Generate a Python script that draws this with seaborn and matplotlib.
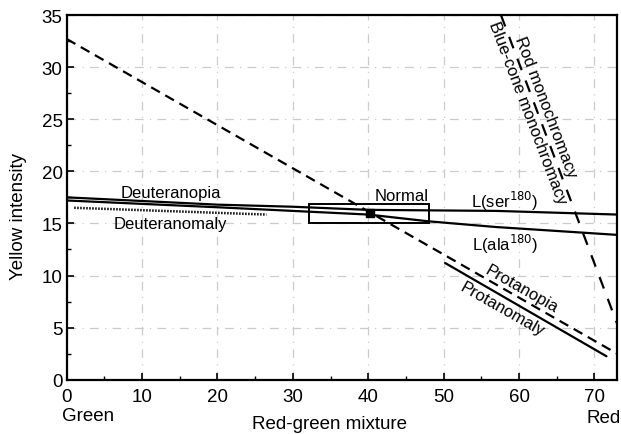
import numpy as np
import matplotlib
matplotlib.use("Agg")
import matplotlib.pyplot as plt
from matplotlib.patches import Rectangle
from matplotlib.ticker import MultipleLocator
import seaborn as sns

# values
ser_x = [0, 20, 30, 40, 57, 73]
ser_y = [17.5, 16.8, 16.6, 16.3, 16.2, 15.85]

ala_x = [0, 20, 30, 40, 48, 57, 73]
ala_y = [17.2, 16.55, 16.2, 15.85, 15.2, 14.65, 13.9]

deutan_anom_x = [1, 26.5]
deutan_anom_y = [16.5, 15.85]

protanopia_x = [0, 73]
protanopia_y = [32.7, 2.5]

protanomaly_x = [50.2, 71.6]
protanomaly_y = [11.2, 2.25]

mono_x = [57.6, 73]
mono_y = [35, 5.4]

normal_x = [32.1, 48.0]
normal_y = [15.05, 16.85]
normal_mean = (40.2, 16.0)

sns.set_style("ticks")
plt.rcParams["font.family"] = ["Liberation Sans", "DejaVu Sans"]
plt.rcParams["text.color"] = "black"
plt.rcParams["axes.labelcolor"] = "black"
plt.rcParams["xtick.color"] = "black"
plt.rcParams["ytick.color"] = "black"
plt.rcParams["axes.edgecolor"] = "black"

fig = plt.figure(figsize=(6.21, 4.35), dpi=100)
ax = fig.add_axes([0.1074, 0.1248, 0.8862, 0.8384])

# grid
ax.set_axisbelow(True)
ax.grid(True, color="#cccccc", linewidth=0.9, linestyle=(0, (7, 5, 1, 5)))

lw = 1.6
sns.lineplot(x=ser_x, y=ser_y, ax=ax, color="black", linewidth=lw,
             sort=False, estimator=None)
sns.lineplot(x=ala_x, y=ala_y, ax=ax, color="black", linewidth=lw,
             sort=False, estimator=None)
sns.lineplot(x=deutan_anom_x, y=deutan_anom_y, ax=ax, color="black",
             linewidth=1.8, linestyle=(0, (0.6, 0.6)), sort=False, estimator=None)
sns.lineplot(x=protanopia_x, y=protanopia_y, ax=ax, color="black",
             linewidth=lw, linestyle=(0, (4.5, 2.8)), sort=False, estimator=None)
sns.lineplot(x=protanomaly_x, y=protanomaly_y, ax=ax, color="black",
             linewidth=lw, sort=False, estimator=None)
sns.lineplot(x=mono_x, y=mono_y, ax=ax, color="black", linewidth=lw,
             linestyle=(0, (5.5, 5.0)), sort=False, estimator=None)

ax.add_patch(Rectangle((normal_x[0], normal_y[0]),
                       normal_x[1] - normal_x[0], normal_y[1] - normal_y[0],
                       fill=False, edgecolor="black", linewidth=1.4, zorder=3))
ax.scatter([normal_mean[0]], [normal_mean[1]], marker="s", s=40,
           color="black", zorder=4)

ax.set_xlim(0, 73)
ax.set_ylim(0, 35)
ax.xaxis.set_major_locator(MultipleLocator(10))
ax.xaxis.set_minor_locator(MultipleLocator(5))
ax.yaxis.set_major_locator(MultipleLocator(5))
ax.yaxis.set_minor_locator(MultipleLocator(2.5))
ax.tick_params(which="major", direction="in", length=5, width=1.2,
               labelsize=13.5)
ax.tick_params(which="minor", direction="in", length=3, width=1.0)
ax.tick_params(axis="x", pad=6)
ax.tick_params(axis="y", pad=3)
for s in ax.spines.values():
    s.set_linewidth(1.6)
    s.set_visible(True)

ax.set_xlabel("Red-green mixture", fontsize=13.5)
ax.set_ylabel("Yellow intensity", fontsize=13.5)
ax.xaxis.set_label_coords(0.477, -0.098)
ax.yaxis.set_label_coords(-0.072, 0.45)

ax.text(0.038, -0.097, "Green", transform=ax.transAxes, fontsize=13.5,
        ha="center", va="center")
ax.text(0.975, -0.103, "Red", transform=ax.transAxes, fontsize=13.5,
        ha="center", va="center")

fs = 12
ax.text(13.8, 18.0, "Deuteranopia", fontsize=fs, ha="center", va="center")
ax.text(13.7, 15.0, "Deuteranomaly", fontsize=fs, ha="center", va="center")
ax.text(44.4, 17.7, "Normal", fontsize=fs, ha="center", va="center")
ax.text(58.1, 17.2, "L(ser$^{180}$)", fontsize=fs, ha="center", va="center")
ax.text(58.1, 13.1, "L(ala$^{180}$)", fontsize=fs, ha="center", va="center")
ax.text(60.3, 8.8, "Protanopia", fontsize=fs, ha="center", va="center",
        rotation=-29.6, rotation_mode="anchor")
ax.text(57.8, 6.8, "Protanomaly", fontsize=fs, ha="center", va="center",
        rotation=-29.6, rotation_mode="anchor")
ax.text(63.5, 26.2, "Rod monochromacy", fontsize=fs, ha="center",
        va="center", rotation=-69.2, rotation_mode="anchor")
ax.text(61.1, 25.7, "Blue-cone monochromacy", fontsize=fs, ha="center",
        va="center", rotation=-69.2, rotation_mode="anchor")

fig.savefig("out.png", dpi=100)
